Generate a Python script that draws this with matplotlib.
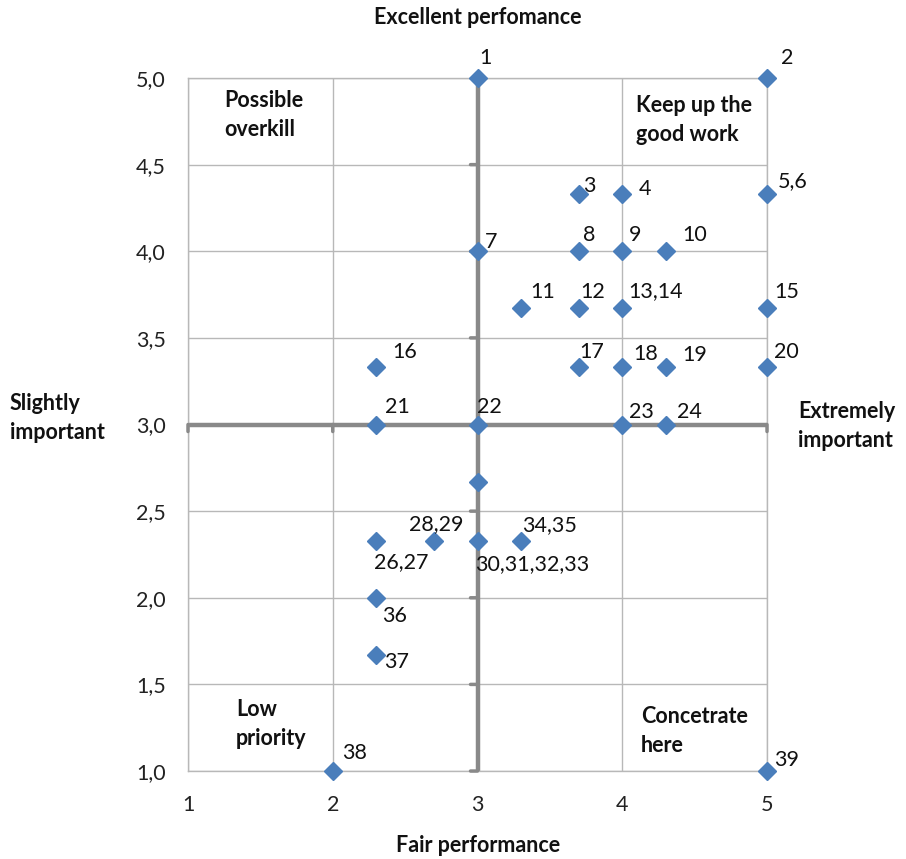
import matplotlib
matplotlib.use("Agg")
import matplotlib.pyplot as plt
from matplotlib.ticker import FuncFormatter, MultipleLocator

plt.rcParams['font.family'] = ['Lato', 'DejaVu Sans']

# Importance (x) vs performance (y) for each item
labels = ["1", "2", "3", "4", "5,6", "7", "8", "9", "10", "11", "12", "13,14",
          "15", "16", "17", "18", "19", "20", "21", "22", "23", "24", "",
          "26,27", "28,29", "30,31,32,33", "34,35", "36", "37", "38", "39"]
importance = [3.0, 5.0, 3.7, 4.0, 5.0, 3.0, 3.7, 4.0, 4.3, 3.3, 3.7, 4.0,
              5.0, 2.3, 3.7, 4.0, 4.3, 5.0, 2.3, 3.0, 4.0, 4.3, 3.0,
              2.3, 2.7, 3.0, 3.3, 2.3, 2.3, 2.0, 5.0]
performance = [5.0, 5.0, 4.33, 4.33, 4.33, 4.0, 4.0, 4.0, 4.0, 3.67, 3.67, 3.67,
               3.67, 3.33, 3.33, 3.33, 3.33, 3.33, 3.0, 3.0, 3.0, 3.0, 2.67,
               2.33, 2.33, 2.33, 2.33, 2.0, 1.67, 1.0, 1.0]

# label offsets in pixels (dx, dy) from each marker
offsets = [(8, 20), (20, 20), (11, 8), (23, 5), (26, 13), (14, 9), (10, 16),
           (13, 16), (29, 16), (22, 16), (14, 16), (33, 17), (20, 16), (28, 15),
           (13, 15), (23, 13), (29, 12), (19, 15), (21, 18), (12, 18), (19, 13),
           (24, 13), (0, 0), (25, -21), (2, 17), (55, -23), (29, 16), (18, -18),
           (20, -7), (22, 18), (20, 11)]

quadrants = [("Possible\noverkill", 1.25, 4.932), ("Keep up the\ngood work", 4.095, 4.902),
             ("Low\npriority", 1.33, 1.417), ("Concetrate\nhere", 4.13, 1.377)]

FS = 15.5

fig = plt.figure(figsize=(9.06, 8.59), dpi=100)
ax = fig.add_axes([0.2075, 0.1024, 0.6391, 0.8068])

grid_col = "#b8b8b8"
ax.set_xlim(1, 5)
ax.set_ylim(1, 5)
ax.xaxis.set_major_locator(MultipleLocator(1))
ax.yaxis.set_major_locator(MultipleLocator(0.5))
ax.yaxis.set_major_formatter(FuncFormatter(lambda v, p: f"{v:.1f}".replace(".", ",")))
ax.xaxis.set_major_formatter(FuncFormatter(lambda v, p: f"{v:.0f}"))
ax.grid(True, color=grid_col, linewidth=1.0)
ax.set_axisbelow(True)
for s in ax.spines.values():
    s.set_color(grid_col)
    s.set_linewidth(1.0)
ax.tick_params(length=0, labelsize=FS, colors="#222222")
ax.tick_params(axis="x", pad=17)
ax.tick_params(axis="y", pad=16)

# Centre cross lines with small ticks
cross = "#898989"
ax.plot([3, 3], [1, 5], color=cross, lw=3.2, zorder=2, solid_capstyle="butt")
ax.plot([1, 5], [3, 3], color=cross, lw=3.2, zorder=2, solid_capstyle="butt")
for yv in [1.0, 1.5, 2.0, 2.5, 3.5, 4.0, 4.5]:
    ax.annotate("", xy=(3, yv), xytext=(-7, 0), textcoords="offset pixels",
                arrowprops=dict(arrowstyle="-", color=cross, lw=2.5, shrinkA=0, shrinkB=0))
for xv in [1, 2, 4, 5]:
    ax.annotate("", xy=(xv, 3), xytext=(0, -7), textcoords="offset pixels",
                arrowprops=dict(arrowstyle="-", color=cross, lw=2.5, shrinkA=0, shrinkB=0))

ax.plot(importance, performance, linestyle="none", marker="D", markersize=9.5,
        color="#4a7ebb", markeredgecolor="#4a7ebb", zorder=4, clip_on=False)

for lab, x, y, (dx, dy) in zip(labels, importance, performance, offsets):
    if lab:
        ax.annotate(lab, xy=(x, y), xytext=(dx, dy), textcoords="offset pixels",
                    ha="center", va="center", fontsize=FS, color="#111111", zorder=5)

for txt, x, y in quadrants:
    ax.text(x, y, txt, ha="left", va="top", fontsize=FS, fontweight="bold",
            color="#111111", linespacing=1.5)

fig.text(478 / 906, 1 - 17 / 859, "Excellent perfomance", ha="center", va="center",
         fontsize=FS, fontweight="bold", color="#111111")
fig.text(478 / 906, 1 - 846 / 859, "Fair performance", ha="center", va="center",
         fontsize=FS, fontweight="bold", color="#111111")
fig.text(10 / 906, 1 - 418 / 859, "Slightly\nimportant", ha="left", va="center",
         fontsize=FS, fontweight="bold", color="#111111", linespacing=1.5)
fig.text(798 / 906, 1 - 426 / 859, "Extremely\nimportant", ha="left", va="center",
         fontsize=FS, fontweight="bold", color="#111111", linespacing=1.5)

fig.savefig("out.png", dpi=100, facecolor="white")
